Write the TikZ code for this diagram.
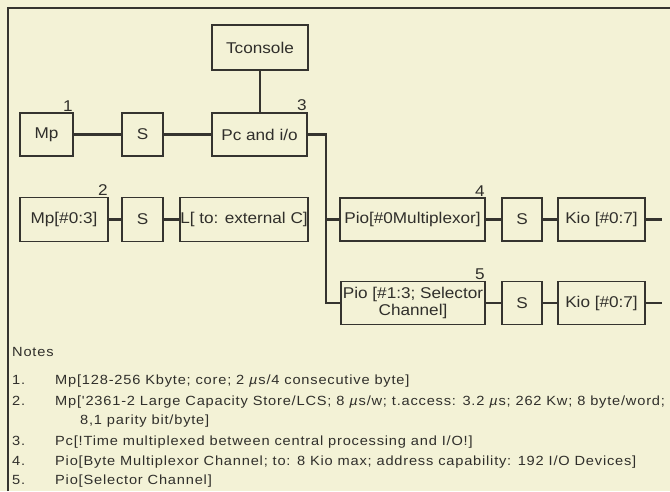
\documentclass[tikz,border=0pt]{standalone}
\usepackage{fontspec}
\setmainfont{Liberation Sans}
\newfontfamily\boxfnt[FakeStretch=1.1]{Liberation Sans}
\newfontfamily\notefnt[FakeStretch=1.1,LetterSpace=6]{Liberation Sans}
\definecolor{bgc}{HTML}{F3F2D6}
\definecolor{linec}{HTML}{35342F}
\definecolor{txtc}{HTML}{302F2B}
\tikzset{
  box/.style={draw=linec, line width=1.6pt, inner sep=0pt, text=txtc,
    font=\boxfnt\fontsize{15.6pt}{17pt}\selectfont, align=center},
  conn/.style={draw=linec, line width=2.2pt},
  num/.style={text=txtc, inner sep=1pt, anchor=south east,
    font=\boxfnt\fontsize{15.6pt}{17pt}\selectfont},
  note/.style={text=txtc, inner sep=0pt, anchor=base west,
    font=\notefnt\fontsize{13.3pt}{15pt}\selectfont},
}
\begin{document}
\begin{tikzpicture}[x=1pt,y=-1pt]
\useasboundingbox (0,0) rectangle (670,491);
\fill[bgc] (0,0) rectangle (670,491);
\draw[linec, line width=1.6pt] (8,491) -- (8,8) -- (670,8);
% row 1
\node[box, minimum width=96pt, minimum height=45pt] (tcon) at (260,47.5) {Tconsole};
\node[box, minimum width=53pt, minimum height=43pt] (mp) at (46.5,134.5) {Mp};
\node[box, minimum width=41pt, minimum height=43pt] (s1) at (142.5,134.5) {S};
\node[box, minimum width=95pt, minimum height=43pt] (pc) at (259.5,134.5) {Pc and i/o};
% row 2
\node[box, minimum width=88pt, minimum height=44pt] (mp2) at (64,219.5) {Mp[\#0:3]};
\node[box, minimum width=41pt, minimum height=44pt] (s2) at (142.5,219.5) {S};
\node[box, minimum width=128pt, minimum height=44pt] (lk) at (244,219.5) {L[ to: external C]};
% row 4
\node[box, minimum width=145pt, minimum height=43pt] (pio0) at (412.5,219.5) {Pio[\#0Multiplexor]};
\node[box, minimum width=40pt, minimum height=43pt] (s3) at (522,219.5) {S};
\node[box, minimum width=87pt, minimum height=43pt] (kio0) at (601.5,219.5) {Kio [\#0:7]};
% row 5
\node[box, minimum width=144pt, minimum height=43pt] (pio1) at (413,303) {Pio [\#1:3; Selector\\Channel]};
\node[box, minimum width=40pt, minimum height=43pt] (s4) at (522,303) {S};
\node[box, minimum width=87pt, minimum height=43pt] (kio1) at (601.5,303) {Kio [\#0:7]};
% numbers
\node[num] (n1) at (mp.north east) {1};
\node[num] (n2) at (mp2.north east) {2};
\node[num] (n3) at (pc.north east) {3};
\node[num] (n4) at (pio0.north east) {4};
\node[num] (n5) at (pio1.north east) {5};
% connectors
\draw[conn] (tcon.south) -- (tcon.south |- pc.north);
\draw[conn] (mp) -- (s1);
\draw[conn] (s1) -- (pc);
\draw[conn] (mp2) -- (s2);
\draw[conn] (s2) -- (lk);
\coordinate (bt) at (326,134.5);
\draw[conn] (pc.east) -- (bt) -- (bt |- pio1.west) -- (pio1.west);
\draw[conn] (bt |- pio0.west) -- (pio0.west);
\draw[conn] (pio0) -- (s3);
\draw[conn] (s3) -- (kio0);
\draw[conn] (pio1) -- (s4);
\draw[conn] (s4) -- (kio1);
\coordinate (e0) at (662,219.5);
\coordinate (e1) at (662,303);
\draw[conn] (kio0.east) -- (e0);
\draw[conn] (kio1.east) -- (e1);
% notes
\node[note] (notes) at (12,356) {Notes};
\node[note] (k1) at (12,384) {1.};
\node[note] (t1) at (55,384) {Mp[128-256 Kbyte; core; 2 \textit{µ}s/4 consecutive byte]};
\node[note] (k2) at (12,405) {2.};
\node[note] (t2) at (55,405) {Mp['2361-2 Large Capacity Store/LCS; 8 \textit{µ}s/w; t.access: 3.2 \textit{µ}s; 262 Kw; 8 byte/word;};
\node[note] (t2b) at (80,424) {8,1 parity bit/byte]};
\node[note] (k3) at (12,445) {3.};
\node[note] (t3) at (55,445) {Pc[!Time multiplexed between central processing and I/O!]};
\node[note] (k4) at (12,465) {4.};
\node[note] (t4) at (55,465) {Pio[Byte Multiplexor Channel; to: 8 Kio max; address capability: 192 I/O Devices]};
\node[note] (k5) at (12,484) {5.};
\node[note] (t5) at (55,484) {Pio[Selector Channel]};
\end{tikzpicture}
\end{document}
